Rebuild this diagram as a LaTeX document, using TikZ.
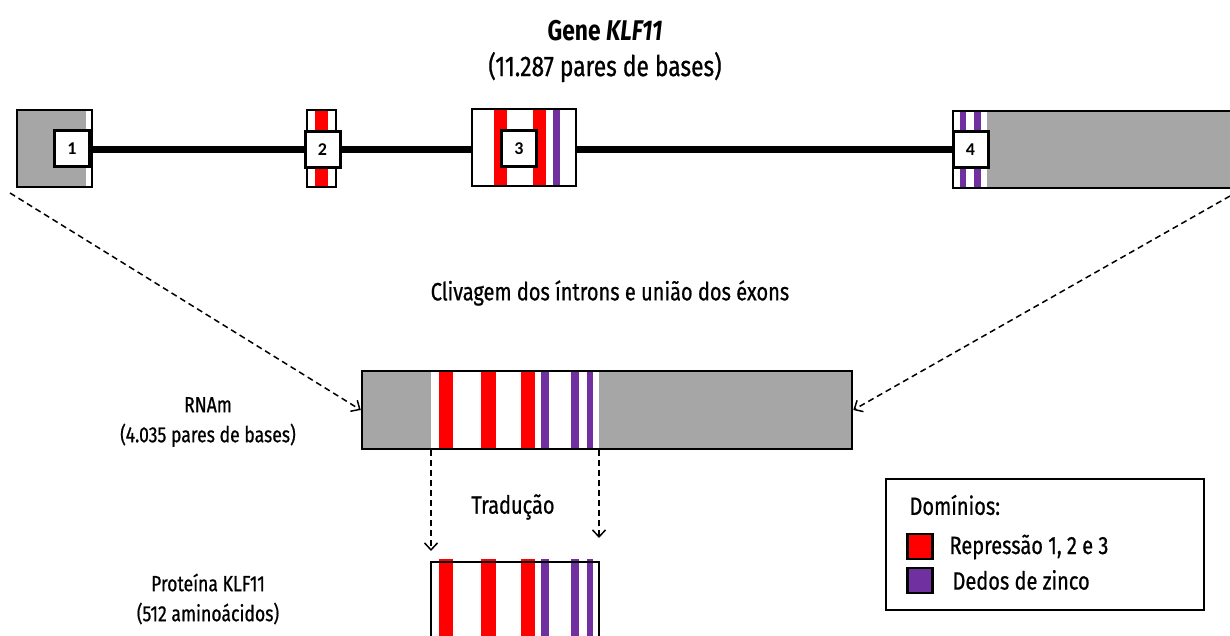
\documentclass[tikz,border=0pt]{standalone}
\usepackage{fontspec}
\setmainfont{Fira Sans}[FakeStretch=0.8, UprightFeatures={FakeBold=0.7}]
\newfontfamily\boxfont{Carlito}
\usetikzlibrary{arrows.meta}

\definecolor{exongray}{HTML}{A6A6A6}
\definecolor{repred}{HTML}{FF0000}
\definecolor{zincpurple}{HTML}{7030A0}

\begin{document}
\begin{tikzpicture}[x=1pt, y=-1pt,
  exon/.style={draw, line width=2.5pt, inner sep=0pt, minimum height=77pt},
  num box/.style={draw, fill=white, line width=3pt, minimum width=35pt, minimum height=36pt, inner sep=0pt, font=\boxfont\bfseries\fontsize{18}{18}\selectfont},
  intron/.style={line width=7pt},
  label/.style={align=center, font=\fontsize{25}{30}\selectfont},
  guide/.style={dash pattern=on 6pt off 4pt, line width=1.5pt, -{Straight Barb[length=7pt, width=13pt]}},
  key/.style={draw, line width=2.2pt, minimum size=25pt, inner sep=0pt}]

  \useasboundingbox (0,0) rectangle (1230,636);

  % title
  \node[label, font=\fontsize{28.5}{36}\selectfont] (title) at (605,51) {\textbf{Gene \textit{KLF11}}\\(11.287 pares de bases)};

  % gene: exons and introns
  \fill[exongray] (17,110) rectangle (86,187);
  \fill[repred] (315,110) rectangle (328,187);
  \fill[repred] (494,109) rectangle (507,186);
  \fill[repred] (533,109) rectangle (546,186);
  \fill[zincpurple] (553,109) rectangle (560,186);
  \fill[zincpurple] (960,111) rectangle (966,188);
  \fill[zincpurple] (974,111) rectangle (981,188);
  \fill[exongray] (987,111) rectangle (1240,188);

  \node[exon, minimum width=75pt] (ex1) at (54.5,148.5) {};
  \node[exon, minimum width=29pt] (ex2) at (321.5,148.5) {};
  \node[exon, minimum width=104pt] (ex3) at (524,147.5) {};
  \node[exon, minimum width=290pt] (ex4) at (1098,149.5) {};

  \draw[intron] (ex1.east |- 0,150) -- (ex2.west |- 0,150);
  \draw[intron] (ex2.east |- 0,150) -- (ex3.west |- 0,150);
  \draw[intron] (ex3.east |- 0,150) -- (ex4.west |- 0,150);

  \node[num box] (n1) at (72,148.5) {1};
  \node[num box] (n2) at (322.5,149.5) {2};
  \node[num box] (n3) at (519,148.5) {3};
  \node[num box] (n4) at (970.5,149.5) {4};

  \node[label] (splice) at (610,293) {Clivagem dos íntrons e união dos éxons};

  % mRNA
  \fill[exongray] (362,371) rectangle (431,449);
  \fill[exongray] (599,371) rectangle (852,449);
  \foreach \a/\b in {439/453, 481/496, 521/535}
    \fill[repred] (\a,371) rectangle (\b,449);
  \foreach \a/\b in {541/549, 571/579, 587/593}
    \fill[zincpurple] (\a,371) rectangle (\b,449);
  \node[exon, minimum width=490pt, minimum height=78pt] (rna) at (607,410) {};
  \node[label, font=\fontsize{22}{30}\selectfont] (rnalabel) at (208,422) {RNAm\\(4.035 pares de bases)};

  \coordinate (geneL) at (10,193);
  \coordinate (geneR) at (1230,196);
  \draw[guide] (geneL) -- (rna.west);
  \draw[guide] (geneR) -- (rna.east);

  % translation
  \coordinate (rnaL) at (431,450);
  \coordinate (rnaR) at (599,450);
  \coordinate (protL) at (431,551);
  \coordinate (protR) at (599,538);
  \draw[guide] (rnaL) -- (protL);
  \draw[guide] (rnaR) -- (protR);
  \node[label] (transl) at (513,507) {Tradução};

  % protein
  \foreach \a/\b in {439/453, 481/496, 521/535}
    \fill[repred] (\a,559) rectangle (\b,640);
  \foreach \a/\b in {541/549, 571/579, 587/593}
    \fill[zincpurple] (\a,559) rectangle (\b,640);
  \node[draw, line width=2pt, minimum width=168pt, minimum height=78pt, inner sep=0pt] (prot) at (515,601) {};
  \node[label, font=\fontsize{22}{30}\selectfont] (protlabel) at (208,599) {Proteína KLF11\\(512 aminoácidos)};

  % legend
  \node[draw, line width=2.5pt, minimum width=318pt, minimum height=131pt, inner sep=0pt] (legend) at (1045,544.5) {};
  \node[label, anchor=west] (legtitle) at (906,505) {Domínios:};
  \node[key, fill=repred] (keyred) at (920,546.5) {};
  \node[key, fill=zincpurple] (keypurple) at (920,580.5) {};
  \node[label, anchor=west] (legred) at (946,547) {Repressão 1, 2 e 3};
  \node[label, anchor=west] (legpurple) at (949,580) {Dedos de zinco};

\end{tikzpicture}
\end{document}
